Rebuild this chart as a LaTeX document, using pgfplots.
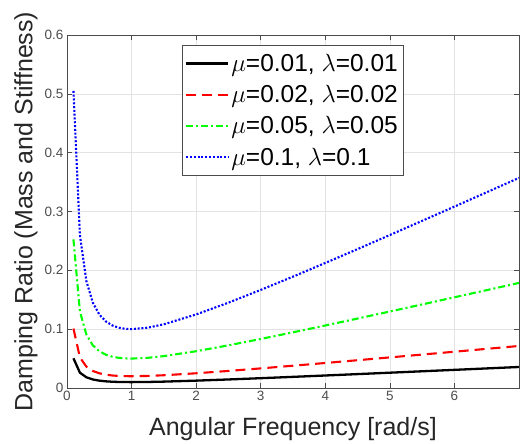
\documentclass[border=0pt]{standalone}
\usepackage{pgfplots}
\pgfplotsset{compat=1.18}
\usepackage{pgfplotstable}
\usepackage{fontspec}
\setmainfont{Liberation Sans}

\pgfplotstableread{
w      a        b        c        d
0.1    0.0505   0.1010   0.2525   0.5050
0.2    0.0260   0.0520   0.1300   0.2600
0.3    0.01817  0.03633  0.09083  0.1817
0.4    0.0145   0.0290   0.0725   0.1450
0.5    0.0125   0.0250   0.0625   0.1250
0.6    0.01133  0.02267  0.05667  0.1133
0.7    0.01064  0.02129  0.05321  0.1064
0.8    0.01025  0.02050  0.05125  0.1025
0.9    0.01006  0.02011  0.05028  0.1006
1.0    0.0100   0.0200   0.0500   0.1000
1.25   0.01025  0.02050  0.05125  0.1025
1.5    0.01083  0.02167  0.05417  0.1083
2.0    0.0125   0.0250   0.0625   0.1250
2.5    0.0145   0.0290   0.0725   0.1450
3.0    0.01667  0.03333  0.08333  0.1667
3.5    0.01893  0.03786  0.09464  0.1893
4.0    0.02125  0.0425   0.10625  0.2125
4.5    0.02361  0.04722  0.11806  0.2361
5.0    0.0260   0.0520   0.1300   0.2600
5.5    0.02841  0.05682  0.14205  0.2841
6.0    0.03083  0.06167  0.15417  0.3083
6.5    0.03327  0.06654  0.16635  0.3327
7.0    0.03571  0.07143  0.17857  0.3571
}\datatable

\begin{document}
\begin{tikzpicture}
\begin{axis}[
  at={(0pt,0pt)}, anchor=south west,
  scale only axis,
  width=452pt, height=353pt,
  xmin=0, xmax=7, ymin=0, ymax=0.6,
  xtick={0,1,2,3,4,5,6},
  ytick={0,0.1,0.2,0.3,0.4,0.5,0.6},
  yticklabel style={/pgf/number format/fixed, /pgf/number format/precision=1},
  /pgf/number format/assume math mode=true,
  tick label style={font=\fontsize{13.5}{15}\selectfont, text=black!70},
  tick align=inside,
  major tick length=5pt,
  tick style={black!70, line width=0.6pt},
  axis line style={black!70, line width=0.6pt},
  grid=major,
  major grid style={gray!22, line width=0.6pt},
  xlabel={Angular Frequency [rad/s]},
  ylabel={Damping Ratio (Mass and Stiffness)},
  label style={font=\fontsize{25}{30}\selectfont, text=black!85},
  xlabel style={at={(axis description cs:0.5,-0.116)}, anchor=center},
  ylabel style={at={(axis description cs:-0.0907,0.5)}, anchor=center},
  legend style={at={(axis description cs:0.254,0.972)}, anchor=north west,
    font=\fontsize{24.5}{28}\selectfont, draw=black!70,
    fill=white, row sep=8.5pt, inner xsep=3pt, inner ysep=7pt,
    /tikz/every even column/.append style={column sep=2pt}},
  legend cell align=left,
  legend image code/.code={\draw[#1] (0pt,0pt) -- (42pt,0pt);},
]
\addplot[black, line width=2.3pt] table[x=w, y=a] {\datatable};
\addlegendentry{$\mu$=0.01, $\lambda$=0.01}
\addplot[red, line width=2.1pt, dash pattern=on 10pt off 6pt] table[x=w, y=b] {\datatable};
\addlegendentry{$\mu$=0.02, $\lambda$=0.02}
\addplot[green, line width=2.1pt, dash pattern=on 7pt off 3pt on 2pt off 3pt] table[x=w, y=c] {\datatable};
\addlegendentry{$\mu$=0.05, $\lambda$=0.05}
\addplot[blue, line width=2.1pt, dash pattern=on 2pt off 1.8pt] table[x=w, y=d] {\datatable};
\addlegendentry{$\mu$=0.1, $\lambda$=0.1}
\end{axis}
\path (-67pt,-55pt) rectangle (453pt,388pt);
\end{tikzpicture}
\end{document}
